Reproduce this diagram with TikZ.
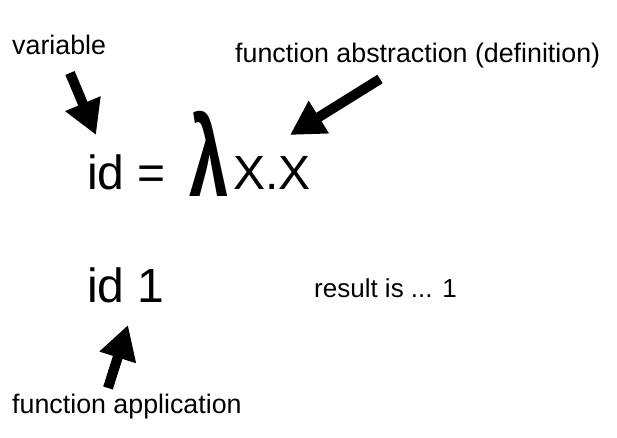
\documentclass[tikz,border=0pt]{standalone}
\usepackage{fontspec}
\usepackage{graphicx}
\setmainfont{Liberation Sans}
\usetikzlibrary{arrows.meta}

\tikzset{
  lbl/.style={anchor=base west, inner sep=0pt, font=\fontsize{26.8}{30}\selectfont},
  big/.style={anchor=base west, inner sep=0pt, font=\fontsize{48}{56}\selectfont},
  fatarrow/.style={line width=10pt, -{Triangle[length=34pt,width=36pt]}}
}

\begin{document}
\begin{tikzpicture}[x=1pt,y=1pt]
        \useasboundingbox (0,0) rectangle (617,437);

        % Labels
        \node[lbl] (var) at (12,382) {variable};
        \node[lbl] (abs) at (235,374) {function abstraction (definition)};
        \node[lbl] (app) at (12,24) {function application};
        \node[lbl, font=\fontsize{26}{30}\selectfont] (res) at (314,140) {result is ... 1};

        % Terms
        \node[big] (def) at (87,248) {id =};
        \node[anchor=south west, inner sep=0pt, font=\fontsize{86}{90}\selectfont\bfseries] (lam) at (189,240) {\scalebox{0.82}[1.32]{λ}};
        \node[big] (body) at (233,248) {X.X};
        \node[big] (call) at (87,135) {id 1};

        % Arrow ends
        \coordinate (v1) at (70,364);
        \coordinate (v2) at (96,302);
        \coordinate (a1) at (380,358);
        \coordinate (a2) at (290,302);
        \coordinate (p1) at (108,49);
        \coordinate (p2) at (128,112);

        % Arrows
        \draw[fatarrow] (v1) -- (v2);
        \draw[fatarrow] (a1) -- (a2);
        \draw[fatarrow] (p1) -- (p2);
\end{tikzpicture}
\end{document}
